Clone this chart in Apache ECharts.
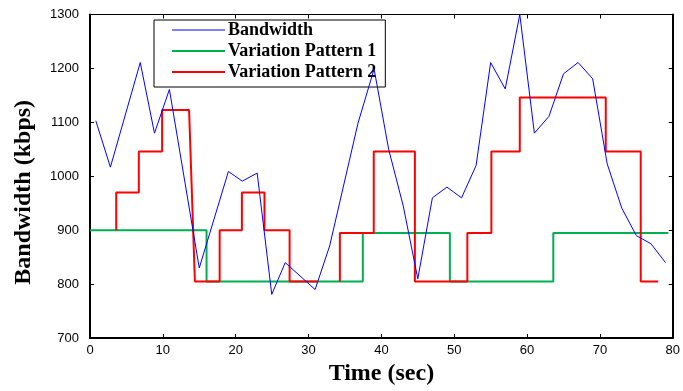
<!DOCTYPE html>
<html>
<head>
<meta charset="utf-8">
<script src="https://cdn.jsdelivr.net/npm/echarts@6/dist/echarts.min.js"></script>
<style>
html,body{margin:0;padding:0;background:#fff;}
#chart{width:683px;height:391px;}
</style>
</head>
<body>
<div id="chart"></div>
<script>
// Time (sec) and bandwidth (kbps)
const bandwidthTime = [0.8, 2.8, 6.9, 8.85, 10.9, 15, 19, 20.9, 22.95, 24.95, 26.8, 30.9, 32.9, 36.8, 39, 41, 43, 45, 47, 49, 51, 53, 55, 57, 59, 61, 63, 65, 67, 69, 71, 73, 75, 77, 79];
const bandwidthValue = [1103, 1017, 1211, 1080, 1161, 830, 1009, 991, 1006, 781, 840, 790, 871, 1099, 1199, 1050, 945, 810, 960, 980, 960, 1020, 1211, 1162, 1300, 1080, 1111, 1190, 1211, 1181, 1023, 941, 890, 875, 840];

// Variation Pattern 1: times where a level starts, and the level
const pattern1Time = [0, 16, 37.45, 49.4, 63.6, 79.4];
const pattern1Value = [900, 805, 895, 805, 895, 895];

// Variation Pattern 2: vertices of the drawn step line (null = gap)
const pattern2Time = [3.6, 3.6, 6.7, 6.7, 9.9, 9.9, 13.6, 14.4, 17.8, 17.8, 20.85, 20.85, 23.95, 23.95, 27.4, 27.4, 31.2, 31.3, 34.3, 34.3, 38.95, 38.95, 44.6, 44.6, 51.8, 51.8, 55.1, 55.1, 59, 59, 70.8, 70.8, 75.6, 75.6, 78];
const pattern2Value = [900, 970, 970, 1046, 1046, 1123, 1123, 805, 805, 900, 900, 970, 970, 900, 900, 805, 805, null, 805, 895, 895, 1046, 1046, 805, 805, 895, 895, 1046, 1046, 1146, 1146, 1046, 1046, 805, 805];

const xTicks = [0, 10, 20, 30, 40, 50, 60, 70, 80];
const yTicks = [700, 800, 900, 1000, 1100, 1200, 1300];

const seriesNames = ['Bandwidth', 'Variation Pattern 1', 'Variation Pattern 2'];
const seriesColors = ['#0000ff', '#00b050', '#ff0000'];

function pairs(xs, ys) { return xs.map((x, i) => [x, ys[i] === null ? '-' : ys[i]]); }

const chart = echarts.init(document.getElementById('chart'), null, {renderer: 'canvas'});

const tickFont = {fontFamily: 'Liberation Sans, Arial, sans-serif', fontSize: 13, color: '#000'};
const nameFont = {fontFamily: 'Liberation Serif, Times New Roman, serif', fontSize: 24, fontWeight: 'bold', color: '#000'};
const plain = v => String(v);

const option = {
  animation: false,
  backgroundColor: '#fff',
  grid: {left: 90, right: 6, top: 14.5, bottom: 47, containLabel: false},
  legend: {
    orient: 'vertical',
    left: 154,
    top: 20,
    data: [
      {name: seriesNames[0], icon: 'path://M0,0H53V1H0Z'},
      {name: seriesNames[1], icon: 'rect'},
      {name: seriesNames[2], icon: 'rect'}
    ],
    itemWidth: 53,
    itemHeight: 2,
    itemGap: 3,
    padding: [1, 9, 6, 18],
    borderColor: '#000',
    borderWidth: 1,
    textStyle: {fontFamily: 'Liberation Serif, Times New Roman, serif', fontSize: 18, fontWeight: 'bold', color: '#000', lineHeight: 18, padding: [0, 0, 0, -2]}
  },
  xAxis: [{
    type: 'value', min: xTicks[0], max: xTicks[xTicks.length - 1], interval: 10,
    name: 'Time (sec)', nameLocation: 'middle', nameGap: 22, nameTextStyle: nameFont,
    axisLine: {show: true, onZero: false, lineStyle: {color: '#000', width: 2}},
    axisTick: {show: true, inside: true, length: 4, lineStyle: {color: '#000'}},
    axisLabel: Object.assign({margin: 6, formatter: plain}, tickFont),
    splitLine: {show: false}
  }, {
    type: 'value', position: 'top', min: xTicks[0], max: xTicks[xTicks.length - 1], interval: 10,
    axisLine: {show: true, onZero: false, lineStyle: {color: '#000', width: 1}},
    axisTick: {show: true, inside: true, length: 4, lineStyle: {color: '#000'}},
    axisLabel: {show: false}, splitLine: {show: false}
  }],
  yAxis: [{
    type: 'value', min: yTicks[0], max: yTicks[yTicks.length - 1], interval: 100,
    name: 'Bandwidth (kbps)', nameLocation: 'middle', nameGap: 54, nameRotate: 90,
    nameTextStyle: Object.assign({padding: [0, 32, 0, 0]}, nameFont),
    axisLine: {show: true, onZero: false, lineStyle: {color: '#000', width: 2}},
    axisTick: {show: true, inside: true, length: 4, lineStyle: {color: '#000'}},
    axisLabel: Object.assign({margin: 11, formatter: plain}, tickFont),
    splitLine: {show: false}
  }, {
    type: 'value', position: 'right', min: yTicks[0], max: yTicks[yTicks.length - 1], interval: 100,
    axisLine: {show: true, onZero: false, lineStyle: {color: '#000', width: 2}},
    axisTick: {show: true, inside: true, length: 4, lineStyle: {color: '#000'}},
    axisLabel: {show: false}, splitLine: {show: false}
  }],
  series: [{
    name: seriesNames[0], type: 'line', z: 4,
    data: pairs(bandwidthTime, bandwidthValue),
    symbol: 'none', showSymbol: false,
    itemStyle: {color: seriesColors[0]},
    lineStyle: {color: seriesColors[0], width: 1}
  }, {
    name: seriesNames[1], type: 'line', z: 2,
    step: 'end',
    data: pairs(pattern1Time, pattern1Value),
    symbol: 'none', showSymbol: false,
    itemStyle: {color: seriesColors[1]},
    lineStyle: {color: seriesColors[1], width: 2}
  }, {
    name: seriesNames[2], type: 'line', z: 3,
    data: pairs(pattern2Time, pattern2Value),
    connectNulls: false,
    symbol: 'none', showSymbol: false,
    itemStyle: {color: seriesColors[2]},
    lineStyle: {color: seriesColors[2], width: 2}
  }]
};
chart.setOption(option);
</script>
</body>
</html>
